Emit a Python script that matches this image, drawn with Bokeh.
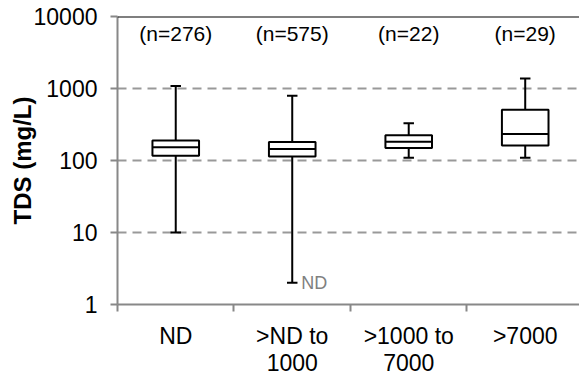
import numpy as np
from bokeh.plotting import figure
from bokeh.models import (Range1d, FixedTicker, NumeralTickFormatter, Span, Label,
                          ColumnDataSource, LinearAxis)
from bokeh.core.properties import value
from bokeh.embed import file_html
from bokeh.resources import INLINE

categories = ["ND", ">ND to\n1000", ">1000 to\n7000", ">7000"]
n_counts = [276, 575, 22, 29]
whisker_low = [10, 2, 109, 109]
q1 = [116, 114, 149, 162]
median = [153, 145, 182, 234]
q3 = [189, 180, 225, 507]
whisker_high = [1083, 796, 329, 1374]
y_ticks = [1, 10, 100, 1000, 10000]

FONT = "Liberation Sans"
GRAY = "#888888"

xc = np.arange(len(categories)) + 0.5
box_w = 0.40
cap_w = 0.09

src = ColumnDataSource(dict(
    x=xc, lo=whisker_low, q1=q1, med=median, q3=q3, hi=whisker_high,
    cl=xc - cap_w / 2, cr=xc + cap_w / 2,
    bl=xc - box_w / 2, br=xc + box_w / 2,
    ntext=["(n=%d)" % n for n in n_counts],
    top=[y_ticks[-1]] * len(categories),
))

p = figure(width=579, height=375, output_backend="svg", toolbar_location=None,
           y_axis_type="log", x_range=Range1d(0, 3.966),
           y_range=Range1d(y_ticks[0], y_ticks[-1]),
           min_border_left=117, min_border_right=0, min_border_top=16,
           min_border_bottom=71)
p.outline_line_color = None
p.background_fill_color = "white"
p.border_fill_color = "white"

# grid
p.xgrid.grid_line_color = None
p.ygrid.ticker = FixedTicker(ticks=y_ticks)
p.ygrid.grid_line_color = "#999999"
p.ygrid.grid_line_width = 2
p.ygrid.grid_line_dash = "9 6"

# y axis
ya = p.yaxis[0]
ya.ticker = FixedTicker(ticks=y_ticks, minor_ticks=[])
ya.formatter = NumeralTickFormatter(format="0")
ya.axis_line_color = GRAY
ya.axis_line_width = 2
ya.major_tick_line_color = GRAY
ya.major_tick_line_width = 2
ya.major_tick_out = 7
ya.major_tick_in = 0
ya.minor_tick_line_color = None
ya.major_label_text_font = FONT
ya.major_label_text_font_size = "23px"
ya.major_label_text_color = "black"
ya.major_label_standoff = 13
ya.axis_label = "TDS (mg/L)"
ya.axis_label_text_font = FONT
ya.axis_label_text_font_size = "24px"
ya.axis_label_text_font_style = "bold"
ya.axis_label_text_color = "black"
ya.axis_label_standoff = -5

# x axis: first line of the category labels
lines = [c.split("\n") for c in categories]
line1 = [l[0] for l in lines]
line2 = [l[1] if len(l) > 1 else "" for l in lines]

xa = p.xaxis[0]
xa.ticker = FixedTicker(ticks=list(xc), minor_ticks=list(np.arange(len(categories) + 1)))
xa.major_label_overrides = {float(x): c for x, c in zip(xc, line1)}
xa.axis_line_color = GRAY
xa.axis_line_width = 2
xa.major_tick_line_color = None
xa.major_tick_out = 0
xa.major_tick_in = 0
xa.minor_tick_line_color = GRAY
xa.minor_tick_line_width = 2
xa.minor_tick_out = 7
xa.minor_tick_in = 0
xa.major_label_text_font = FONT
xa.major_label_text_font_size = "23px"
xa.major_label_text_color = "black"
xa.major_label_standoff = 11

# second line of the category labels
xa2 = LinearAxis(ticker=FixedTicker(ticks=list(xc), minor_ticks=[]),
                 major_label_overrides={float(x): c for x, c in zip(xc, line2)})
xa2.axis_line_color = None
xa2.major_tick_line_color = None
xa2.minor_tick_line_color = None
xa2.major_tick_out = 0
xa2.major_tick_in = 0
xa2.major_label_text_font = FONT
xa2.major_label_text_font_size = "23px"
xa2.major_label_text_color = "black"
xa2.major_label_standoff = 2
p.add_layout(xa2, "below")

# top border line
p.add_layout(Span(location=y_ticks[-1], dimension="width", line_color="black", line_width=2))

# whiskers
p.segment(x0="x", y0="lo", x1="x", y1="q1", source=src, line_color="black", line_width=2)
p.segment(x0="x", y0="q3", x1="x", y1="hi", source=src, line_color="black", line_width=2)
p.segment(x0="cl", y0="lo", x1="cr", y1="lo", source=src, line_color="black", line_width=2)
p.segment(x0="cl", y0="hi", x1="cr", y1="hi", source=src, line_color="black", line_width=2)
# boxes
p.quad(left="bl", right="br", bottom="q1", top="q3", source=src,
       fill_color="white", line_color="black", line_width=2)
p.segment(x0="bl", y0="med", x1="br", y1="med", source=src, line_color="black", line_width=2)

# n labels
p.text(x="x", y="top", text="ntext", source=src, text_font=value(FONT),
       text_font_size="21px", text_align="center", text_baseline="middle",
       y_offset=17, text_color="black")

# ND annotation on the lowest whisker
p.add_layout(Label(x=xc[1], y=whisker_low[1], text="ND", x_offset=9,
                   text_font=FONT, text_font_size="18px", text_color="#808080",
                   text_baseline="middle", text_align="left"))

open("out.html", "w").write(file_html(p, INLINE))
